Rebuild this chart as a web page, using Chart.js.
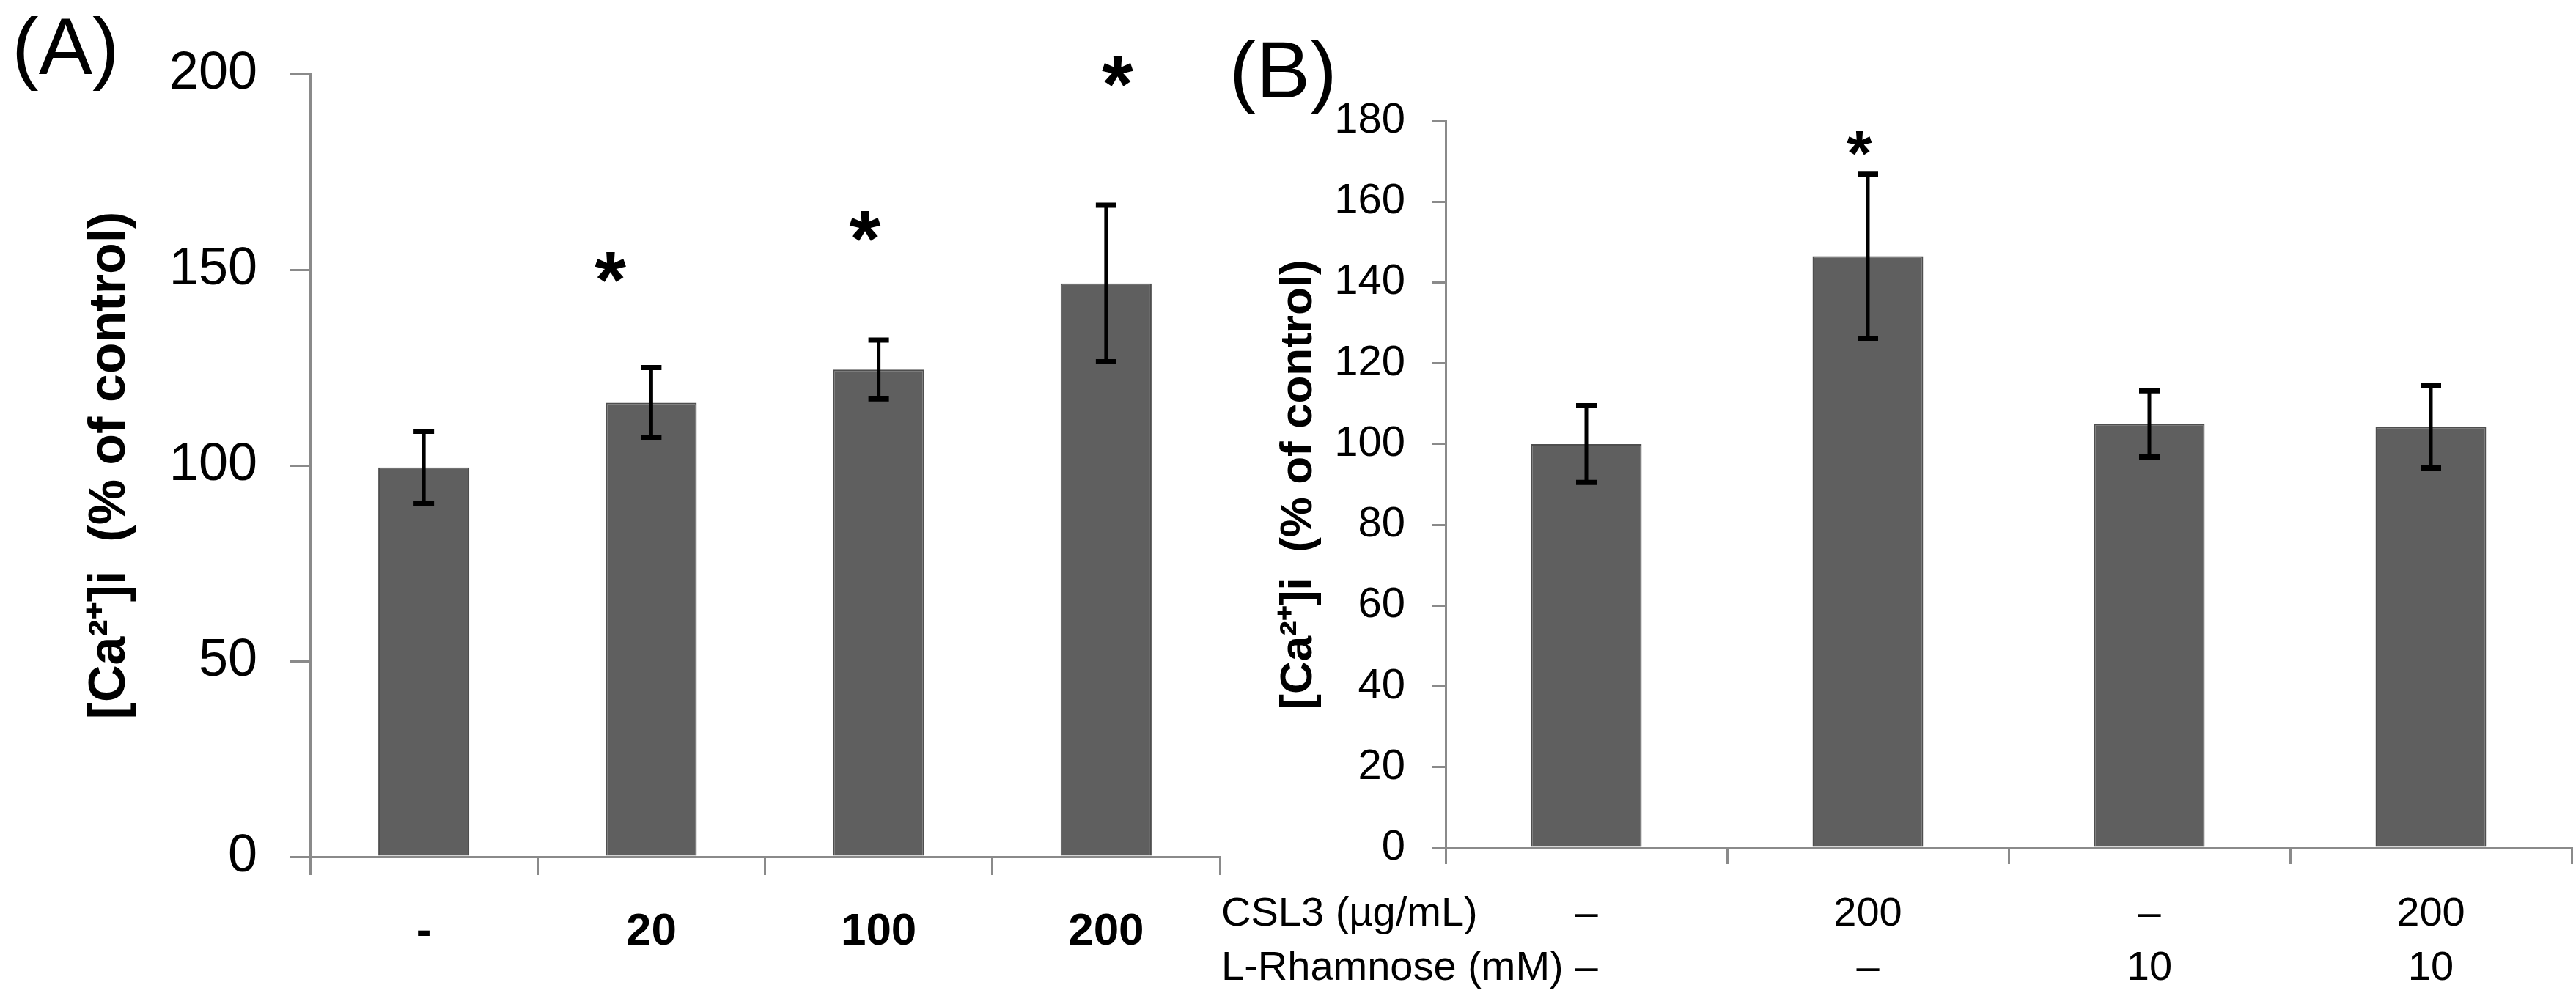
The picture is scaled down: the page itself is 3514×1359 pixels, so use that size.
<!DOCTYPE html>
<html>
<head>
<meta charset="utf-8">
<script src="https://cdn.jsdelivr.net/npm/chart.js@4.4.1/dist/chart.umd.min.js"></script>
<style>
  html, body { margin: 0; padding: 0; background: #ffffff; }
  body { width: 3514px; height: 1359px; position: relative; overflow: hidden; }
  canvas { position: absolute; top: 0; }
  #chartA { left: 0px; }
  #chartB { left: 1640px; }
</style>
</head>
<body>
<canvas id="chartA" width="1680" height="1359"></canvas>
<canvas id="chartB" width="1874" height="1359"></canvas>
<script>
// ---------------- DATA ----------------
// Panel A: CSL3 concentration (µg/mL)
const categoriesA = ['-', '20', '100', '200'];
const meansA = [99.5, 116, 124.5, 146.5];
const errorsA = [9.2, 9, 7.5, 20];
const starValuesA = [null, 150, 160.5, 200];
const yTicksA = { min: 0, max: 200, step: 50 };

// Panel B: CSL3 / L-Rhamnose combinations
const csl3B = ['–', '200', '–', '200'];
const rhamnoseB = ['–', '–', '10', '10'];
const meansB = [100, 146.5, 105, 104.3];
const errorsB = [9.5, 20.3, 8.2, 10.2];
const starValuesB = [null, 174, null, null];
const yTicksB = { min: 0, max: 180, step: 20 };

const yTitle = '[Ca²⁺]i  (% of control)';
const rowHeadersB = ['CSL3 (µg/mL)', 'L-Rhamnose (mM)'];

// ---------------- STYLE ----------------
const FONT = "'Liberation Sans', Arial, Helvetica, sans-serif";
const BAR_FILL = '#5f5f5f';
const BAR_EDGE = '#4e4e4e';
const AXIS = '#8a8a8a';

// error bars + stars + free text plugin
const extrasPlugin = {
  id: 'extras',
  afterDatasetsDraw(chart, args, opts) {
    const ctx = chart.ctx;
    const meta = chart.getDatasetMeta(0);
    const y = chart.scales.y;
    const x = chart.scales.x;
    ctx.save();
    // error bars
    ctx.strokeStyle = '#000';
    ctx.lineCap = 'butt';
    opts.errors.forEach((e, i) => {
      const bx = meta.data[i].x;
      const v = opts.means[i];
      const yt = y.getPixelForValue(v + e);
      const yb = y.getPixelForValue(v - e);
      ctx.lineWidth = opts.errWidth;
      ctx.beginPath();
      ctx.moveTo(bx, yt); ctx.lineTo(bx, yb);
      ctx.stroke();
      ctx.lineWidth = opts.capWidth;
      ctx.beginPath();
      ctx.moveTo(bx - opts.cap / 2, yt); ctx.lineTo(bx + opts.cap / 2, yt);
      ctx.moveTo(bx - opts.cap / 2, yb); ctx.lineTo(bx + opts.cap / 2, yb);
      ctx.stroke();
    });
    // significance stars
    const catW = x.getPixelForValue(1) - x.getPixelForValue(0);
    ctx.fillStyle = '#000';
    ctx.font = 'bold ' + opts.starSize + 'px ' + FONT;
    ctx.textAlign = 'center';
    ctx.textBaseline = 'alphabetic';
    opts.stars.forEach((s, i) => {
      if (s === null) return;
      const sx = meta.data[i].x + (opts.starShift[i] || 0) * catW;
      const sy = y.getPixelForValue(s) + 0.46 * opts.starSize;
      ctx.fillText('*', sx, sy);
    });
    // panel letter
    ctx.font = opts.letterSize + 'px ' + FONT;
    ctx.textAlign = 'left';
    ctx.fillText(opts.letter, opts.letterX, opts.letterY);
    // row headers
    if (opts.rows) {
      ctx.font = opts.rowFont + 'px ' + FONT;
      ctx.textBaseline = 'middle';
      opts.rows.forEach((t, k) => {
        ctx.fillText(t, opts.rowX, opts.rowY + k * opts.rowGap);
      });
    }
    ctx.restore();
  }
};

function makeChart(id, cfg) {
  return new Chart(document.getElementById(id), {
    type: 'bar',
    data: {
      labels: cfg.labels,
      datasets: [{
        data: cfg.means,
        backgroundColor: BAR_FILL,
        borderColor: BAR_EDGE,
        borderWidth: 2,
        barPercentage: 1.0,
        categoryPercentage: cfg.catPct
      }]
    },
    options: {
      responsive: false,
      devicePixelRatio: 1,
      animation: false,
      layout: { padding: cfg.padding },
      plugins: {
        legend: { display: false },
        tooltip: { enabled: false },
        extras: cfg.extras
      },
      scales: {
        x: {
          type: 'category',
          grid: { display: true, drawOnChartArea: false, drawTicks: true, offset: true,
                  tickLength: cfg.xTick, color: AXIS, lineWidth: 3 },
          border: { display: true, color: AXIS, width: 3 },
          ticks: { color: '#000', font: cfg.xFont, padding: cfg.xPad,
                   maxRotation: 0, minRotation: 0, autoSkip: false },
          afterFit: s => { s.height = cfg.xHeight; }
        },
        y: {
          min: cfg.yTicks.min, max: cfg.yTicks.max,
          grid: { display: true, drawOnChartArea: false, drawTicks: true,
                  tickLength: cfg.yTick, color: AXIS, lineWidth: 3 },
          border: { display: true, color: AXIS, width: 3 },
          ticks: { stepSize: cfg.yTicks.step, color: '#000', padding: cfg.yPad,
                   font: { family: FONT, size: cfg.yFontSize } },
          title: { display: true, text: yTitle, color: '#000',
                   font: { family: FONT, size: cfg.titleSize, weight: 'bold', lineHeight: 1.2 },
                   padding: { top: cfg.titlePad, bottom: 0 } },
          afterFit: s => { s.width = cfg.yWidth; }
        }
      }
    },
    plugins: [extrasPlugin]
  });
}

makeChart('chartA', {
  labels: categoriesA,
  means: meansA,
  catPct: 0.4,
  padding: { top: 101, right: 16, left: 0, bottom: 0 },
  xTick: 25, xPad: 41, xHeight: 190,
  xFont: { family: FONT, size: 62, weight: 'bold', lineHeight: 1.2 },
  yTicks: yTicksA, yTick: 27, yPad: 45, yFontSize: 72,
  titleSize: 70, titlePad: 109, yWidth: 423,
  extras: {
    means: meansA, errors: errorsA, errWidth: 5, capWidth: 7, cap: 28,
    stars: starValuesA, starShift: [0, -0.18, -0.06, 0.05], starSize: 110,
    letter: '(A)', letterSize: 110, letterX: 16, letterY: 101
  }
});

makeChart('chartB', {
  labels: csl3B.map((c, i) => [c, rhamnoseB[i]]),
  means: meansB,
  catPct: 0.393,
  padding: { top: 165, right: 6, left: 0, bottom: 0 },
  xTick: 22, xPad: 32, xHeight: 202,
  xFont: { family: FONT, size: 56, lineHeight: 1.32 },
  yTicks: yTicksB, yTick: 19, yPad: 36, yFontSize: 58,
  titleSize: 62, titlePad: 95, yWidth: 332,
  extras: {
    means: meansB, errors: errorsB, errWidth: 5, capWidth: 7, cap: 28,
    stars: starValuesB, starShift: [0, -0.03, 0, 0], starSize: 88,
    letter: '(B)', letterSize: 110, letterX: 37, letterY: 133,
    rows: rowHeadersB, rowFont: 56, rowX: 26, rowY: 1248, rowGap: 74
  }
});
</script>
</body>
</html>
